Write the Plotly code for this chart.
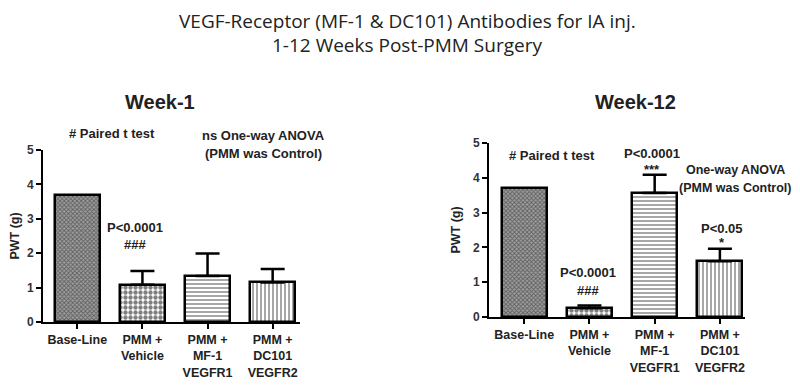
import plotly.graph_objects as go

categories = ["Base-Line", "PMM +<br>Vehicle", "PMM +<br>MF-1<br>VEGFR1", "PMM +<br>DC101<br>VEGFR2"]
week1_mean = [3.68, 1.08, 1.34, 1.15]
week1_err = [0, 0.40, 0.65, 0.39]
week12_mean = [3.70, 0.25, 3.56, 1.60]
week12_err = [0, 0.08, 0.53, 0.36]
y_ticks = [0, 1, 2, 3, 4, 5]

patterns = [
    dict(shape="x", fgcolor="#1e1e1e", bgcolor="#a0a0a0", size=3, solidity=0.5),
    dict(shape=".", fgcolor="#000000", bgcolor="#ffffff", size=5, solidity=0.6),
    dict(shape="-", fgcolor="#222222", bgcolor="#ffffff", size=4, solidity=0.4),
    dict(shape="|", fgcolor="#222222", bgcolor="#ffffff", size=4, solidity=0.4),
]

# The page body has an 8px margin: size the figure so the page is exactly 800x387.
OFF = 8
W, H = 800 - 2 * OFF, 387 - 2 * OFF
def px(x):
    return (x - OFF) / W
def py(y):
    return 1 - (y - OFF) / H

fig = go.Figure()
xs = list(range(len(categories)))
for i in xs:
    fig.add_trace(go.Bar(
        x=[i], y=[week1_mean[i]], xaxis="x", yaxis="y", width=0.69,
        marker=dict(color="#ffffff", pattern=patterns[i], line=dict(color="black", width=2.5)),
        error_y=dict(type="data", array=[week1_err[i]], arrayminus=[0], symmetric=False,
                     visible=week1_err[i] > 0, color="black", thickness=2.5, width=12),
        showlegend=False))
    fig.add_trace(go.Bar(
        x=[i], y=[week12_mean[i]], xaxis="x2", yaxis="y2", width=0.69,
        marker=dict(color="#ffffff", pattern=patterns[i], line=dict(color="black", width=2.5)),
        error_y=dict(type="data", array=[week12_err[i]], arrayminus=[0], symmetric=False,
                     visible=week12_err[i] > 0, color="black", thickness=2.5, width=12),
        showlegend=False))

xtickfont = dict(family="Liberation Sans", size=12.5, color="#222222", weight="bold")
ytickfont = dict(family="Liberation Sans", size=12, color="#333333", weight="bold")
axis_common = dict(showgrid=False, zeroline=False, showline=True, linecolor="black", linewidth=2,
                   ticks="outside", ticklen=5, tickwidth=2, tickcolor="black", automargin=False)
ytitle = dict(text="PWT (g)", font=dict(family="Liberation Sans", size=12.5, color="#222222", weight="bold"),
              standoff=10)

fig.update_layout(
    width=W, height=H, margin=dict(l=0, r=0, t=0, b=0, autoexpand=False),
    paper_bgcolor="white", plot_bgcolor="white", bargap=0,
    xaxis=dict(domain=[px(43), px(300)], range=[-0.527, 3.42], tickvals=xs, ticktext=categories,
               anchor="y", tickfont=xtickfont, **axis_common),
    yaxis=dict(domain=[py(322), py(150)], range=[0, 5], tickvals=y_ticks, anchor="x",
               tickfont=ytickfont, title=ytitle, **axis_common),
    xaxis2=dict(domain=[px(489), px(745)], range=[-0.54, 3.385], tickvals=xs, ticktext=categories,
                anchor="y2", tickfont=xtickfont, **axis_common),
    yaxis2=dict(domain=[py(317), py(143)], range=[0, 5], tickvals=y_ticks, anchor="x2",
                tickfont=ytickfont, title=ytitle, **axis_common),
)

def ann(text, x, y, size=13, bold=True, family="Liberation Sans"):
    fig.add_annotation(text=f"<b>{text}</b>" if bold else text, x=px(x), y=py(y), xref="paper", yref="paper",
                       showarrow=False, xanchor="center", yanchor="middle", borderpad=0,
                       font=dict(family=family, size=size, color="#222222"))

ann("VEGF-Receptor (MF-1 & DC101) Antibodies for IA inj.", 407, 21, size=19, bold=False, family="Open Sans")
ann("1-12 Weeks Post-PMM Surgery", 407, 45, size=19, bold=False, family="Open Sans")
ann("Week-1", 160, 102, size=20)
ann("Week-12", 635, 102, size=20)

ann("# Paired t test", 112, 133)
ann("ns One-way ANOVA", 263, 135)
ann("(PMM was Control)", 263, 153)
ann("P<0.0001", 135, 227)
ann("###", 135, 244)

ann("# Paired t test", 552, 155)
ann("P<0.0001", 652, 153)
ann("***", 652, 169)
ann("One-way ANOVA", 735, 170, size=12.5)
ann("(PMM was Control)", 735, 188, size=12.5)
ann("P<0.05", 722, 228)
ann("*", 722, 242)
ann("P<0.0001", 588, 272)
ann("###", 588, 290)

fig.write_html("out.html")
